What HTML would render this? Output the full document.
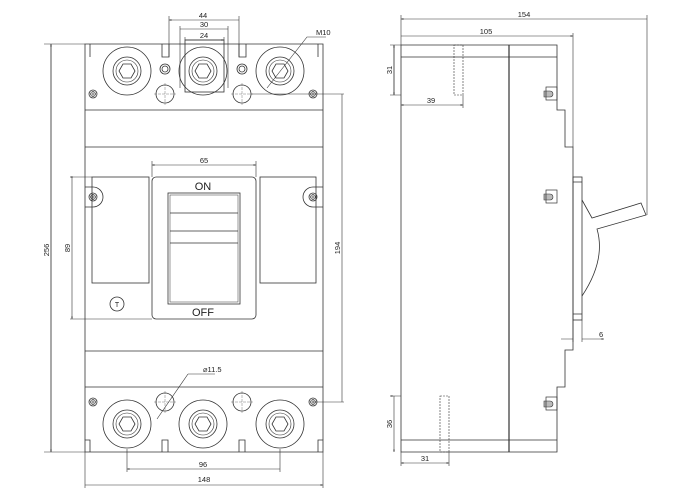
<!DOCTYPE html>
<html><head><meta charset="utf-8"><style>
html,body{margin:0;padding:0;background:#fff;width:700px;height:500px;overflow:hidden}
svg{display:block}
text{font-family:"Liberation Sans",sans-serif;font-size:7.5px;fill:#222}
</style></head><body>
<svg width="700" height="500" viewBox="0 0 700 500" xmlns="http://www.w3.org/2000/svg">
<defs>
<marker id="a" viewBox="0 0 10 10" refX="10" refY="5" markerWidth="5" markerHeight="4" orient="auto-start-reverse"><path d="M0,2 L10,5 L0,8z" fill="#222"/></marker>
<g id="term"><circle r="24" fill="none" stroke="#333" stroke-width="0.8"/><circle r="14" fill="none" stroke="#333" stroke-width="0.8"/><circle r="11" fill="none" stroke="#333" stroke-width="0.6"/><polygon points="8,0 4,7 -4,7 -8,0 -4,-7 4,-7" fill="none" stroke="#333" stroke-width="0.8"/></g>
<g id="scr"><circle r="4" fill="none" stroke="#333" stroke-width="0.8"/><circle r="2.4" fill="none" stroke="#333" stroke-width="0.6"/><path d="M-3,0H3M0,-3V3" stroke="#333" stroke-width="0.6"/></g>
<g id="hole"><circle r="9" fill="none" stroke="#333" stroke-width="0.8"/><path d="M-11,0H11M0,-11V11" stroke="#555" stroke-width="0.4" stroke-dasharray="3,1"/></g>
<g id="sd"><path d="M-5,0 V-3 H1 A3,3 0 0 1 1,3 H-5 Z" fill="#bbb" stroke="#333" stroke-width="0.6"/><rect x="-3" y="-7" width="11" height="13" fill="none" stroke="#333" stroke-width="0.7"/></g>
</defs>
<g fill="none" stroke="#333" stroke-width="0.8">
<!-- front body -->
<path d="M85,57 V44 H90 V57 M85,57 V440 M323,57 V44 H318 V57 M323,57 V440 M90,44 H318"/>
<path d="M85,440 H90 V452 H85 Z M323,440 H318 V452 H323 Z M85,452 H323"/>
<path d="M162,44 V57 H169 V44 M239,44 V57 H246 V44"/>
<path d="M85,110 H323 M85,147 H323 M85,351 H323 M85,387 H323"/>
<path d="M162,452 V440 H168 V452 M239,452 V440 H245 V452"/>
<!-- 24 box -->
<rect x="185" y="40" width="39" height="52"/>
<circle cx="165" cy="69" r="5"/><circle cx="165" cy="69" r="3"/>
<circle cx="242" cy="69" r="5"/><circle cx="242" cy="69" r="3"/>
<!-- middle -->
<rect x="92" y="177" width="57" height="106"/>
<rect x="260" y="177" width="56" height="106"/>
<path d="M85,187 H93 A10,10 0 0 1 93,207 H85"/>
<path d="M323,187 H313 A10,10 0 0 0 313,207 H323"/>
<rect x="152" y="177" width="104" height="142" rx="4"/>
<rect x="168" y="193" width="72" height="111"/>
<rect x="170" y="195" width="68" height="107" stroke-width="0.5"/>
<path d="M170,213 H238 M170,231 H238 M170,243 H238"/>
<circle cx="117" cy="304" r="7"/>
</g>
<use href="#term" x="127" y="71"/><use href="#term" x="203" y="71"/><use href="#term" x="280" y="71"/>
<use href="#term" x="127" y="424"/><use href="#term" x="203" y="424"/><use href="#term" x="280" y="424"/>
<use href="#hole" x="165" y="94"/><use href="#hole" x="242" y="94"/>
<use href="#hole" x="165" y="402"/><use href="#hole" x="242" y="402"/>
<use href="#scr" x="93" y="94"/><use href="#scr" x="313" y="94"/>
<use href="#scr" x="93" y="197"/><use href="#scr" x="313" y="197"/>
<use href="#scr" x="93" y="402"/><use href="#scr" x="313" y="402"/>
<text x="117" y="307" text-anchor="middle" style="font-size:7px">T</text>
<text x="203" y="190" text-anchor="middle" style="font-size:11px">ON</text>
<text x="203" y="316" text-anchor="middle" style="font-size:11px">OFF</text>
<!-- front dims -->
<g fill="none" stroke="#333" stroke-width="0.6">
<path d="M169,57 V16 M239,57 V16 M180,88 V26 M228,88 V26 M185,40 V37 M224,40 V37"/>
<path d="M169,20 H239 M180,29 H228 M185,40 H224" marker-start="url(#a)" marker-end="url(#a)"/>
<path d="M267,88 L307,37 H326"/>
<path d="M251,94 H344 M313,402 H344 M342,94 V402"/>
<path d="M44,44 H85 M44,452 H85 M51,44 V452" />
<path d="M51,44 V452" marker-start="url(#a)" marker-end="url(#a)"/>
<path d="M70,177 H92 M70,319 H152 M72,177 V319" marker-start="url(#a)" marker-end="url(#a)"/>
<path d="M152,161 V177 M256,161 V177"/>
<path d="M152,165 H256" marker-start="url(#a)" marker-end="url(#a)"/>
<path d="M188,374 H215 M188,374 L157,419"/>
<path d="M127,449 V472 M280,449 V472 M85,452 V488 M323,452 V488"/>
<path d="M127,469 H280 M85,485 H323" marker-start="url(#a)" marker-end="url(#a)"/>
</g>
<text x="203" y="18" text-anchor="middle">44</text>
<text x="204" y="27" text-anchor="middle">30</text>
<text x="204" y="38" text-anchor="middle">24</text>
<text x="316" y="35">M10</text>
<text x="204" y="163" text-anchor="middle">65</text>
<text x="203" y="372">⌀11.5</text>
<text x="203" y="467" text-anchor="middle">96</text>
<text x="204" y="482" text-anchor="middle">148</text>
<text transform="translate(49,250) rotate(-90)" text-anchor="middle">256</text>
<text transform="translate(70,248) rotate(-90)" text-anchor="middle">89</text>
<text transform="translate(340,248) rotate(-90)" text-anchor="middle">194</text>
<!-- side view -->
<g fill="none" stroke="#333" stroke-width="0.8">
<path d="M401,45 H557 V110 H565 V147 H573 V350 H565 V387 H557 V452 H401 Z"/>
<path d="M401,57 H557 M401,440 H557"/>
<path d="M509,45 V452" stroke-width="1.2"/>
<rect x="454" y="45" width="9" height="50" stroke-dasharray="2,1" stroke-width="0.6"/>
<rect x="440" y="396" width="9" height="56" stroke-dasharray="2,1" stroke-width="0.6"/>
<rect x="573" y="177" width="9" height="143"/>
<path d="M573,182 H582 M573,314 H582"/>
<path d="M582,200 L592,218 L641,203 L646,215 L597,229 Q606,260 582,296"/>
</g>
<use href="#sd" x="549" y="94"/><use href="#sd" x="549" y="197"/><use href="#sd" x="549" y="404"/>
<g fill="none" stroke="#333" stroke-width="0.6">
<path d="M401,15 V45 M647,15 V215 M573,33 V147"/>
<path d="M401,19 H647 M401,36 H573" marker-start="url(#a)" marker-end="url(#a)"/>
<path d="M390,45 H401 M390,95 H401 M394,45 V95" />
<path d="M394,45 V95" marker-start="url(#a)" marker-end="url(#a)"/>
<path d="M401,105 H463" marker-start="url(#a)" marker-end="url(#a)"/>
<path d="M463,95 V108"/>
<path d="M390,396 H401 M394,396 V452" marker-start="url(#a)" marker-end="url(#a)"/>
<path d="M401,452 V466 M449,452 V466"/>
<path d="M401,463 H449" marker-start="url(#a)" marker-end="url(#a)"/>
<path d="M573,320 V342 M582,320 V342"/>
<path d="M561,339 H573 M594,339 H582 M582,339 H604" marker-end="url(#a)"/>
</g>
<text x="524" y="17" text-anchor="middle">154</text>
<text x="486" y="34" text-anchor="middle">105</text>
<text x="431" y="103" text-anchor="middle">39</text>
<text x="425" y="461" text-anchor="middle">31</text>
<text x="599" y="337">6</text>
<text transform="translate(392,70) rotate(-90)" text-anchor="middle">31</text>
<text transform="translate(392,424) rotate(-90)" text-anchor="middle">36</text>
</svg>
</body></html>
